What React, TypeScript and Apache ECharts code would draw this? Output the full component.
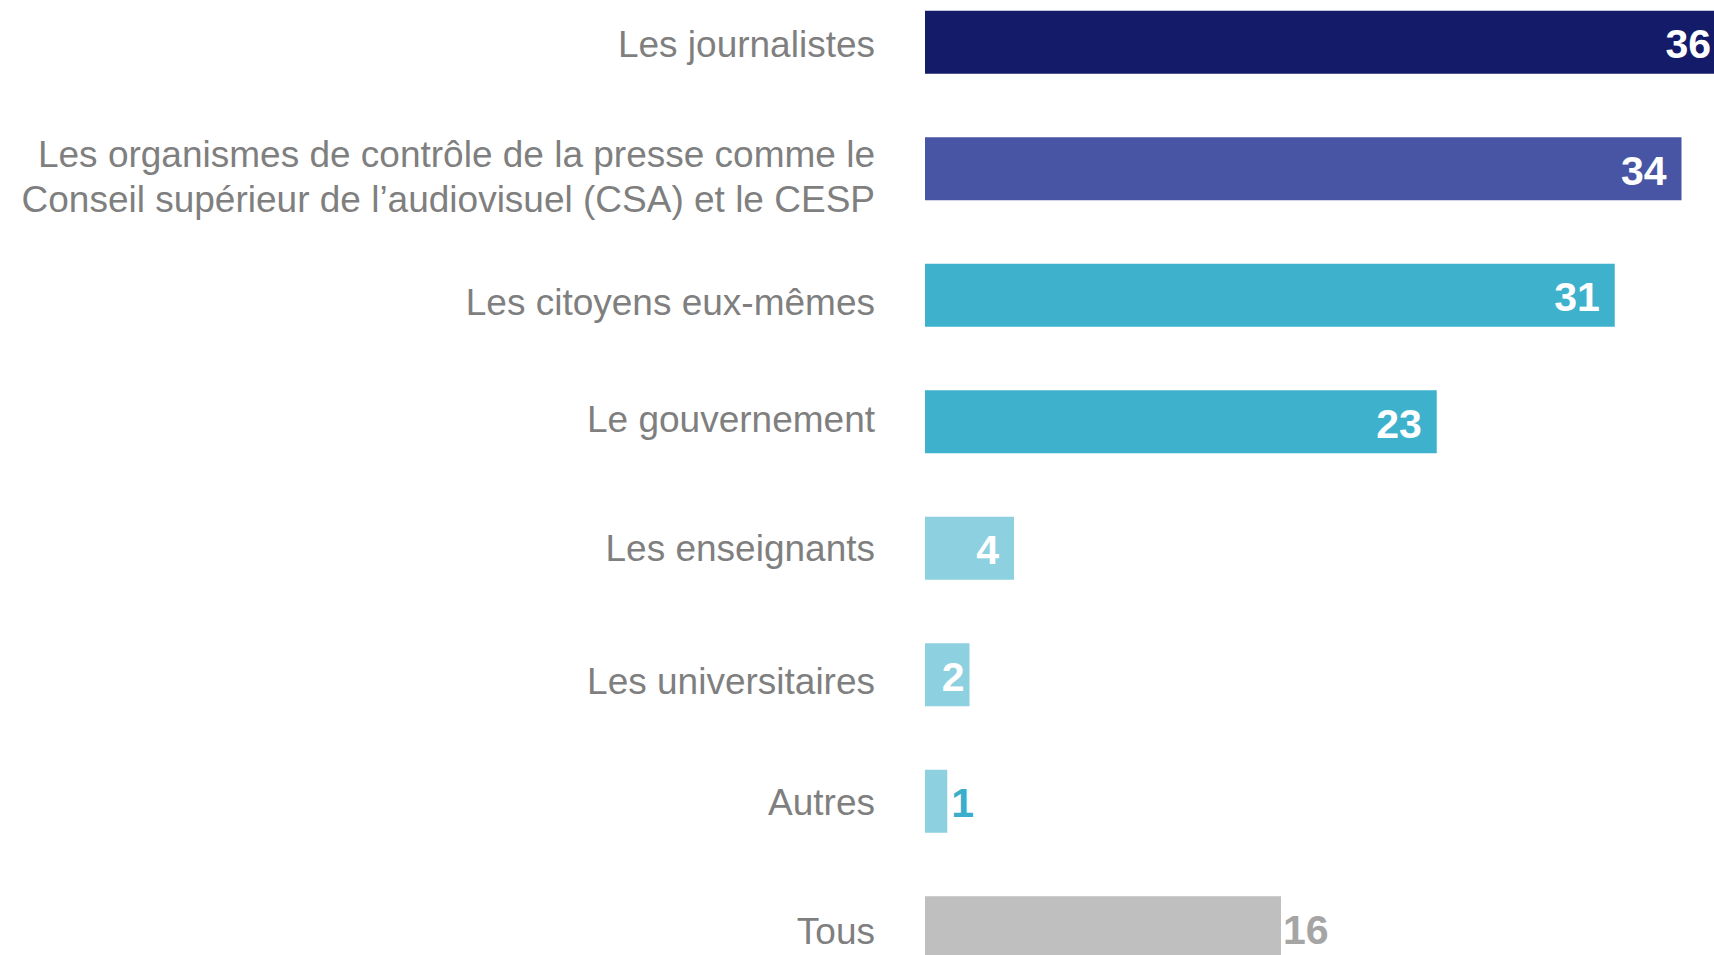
import React, { useEffect, useRef } from "react";
import * as echarts from "echarts";

const categories = [
  "Les journalistes",
  "Les organismes de contrôle de la presse comme le\nConseil supérieur de l’audiovisuel (CSA) et le CESP",
  "Les citoyens eux-mêmes",
  "Le gouvernement",
  "Les enseignants",
  "Les universitaires",
  "Autres",
  "Tous",
];
const values = [36, 34, 31, 23, 4, 2, 1, 16];
const barColors = ["#141C6A", "#4855A5", "#3EB1CD", "#3EB1CD", "#8DD0E0", "#8DD0E0", "#8DD0E0", "#BFBFBF"];

// small vertical nudges (px) of the category labels, as in the source slide
const labelShift = [2, 8, 7, -2, 0, 7, 1, 4];

const FONT = "'Liberation Sans', Arial, Helvetica, sans-serif";

export default function App() {
  const ref = useRef<HTMLDivElement | null>(null);

  useEffect(() => {
    if (!ref.current) return;
    const chart = echarts.init(ref.current, null, { renderer: "svg" });

    const labelFor = (i: number) => {
      const base = {
        show: true,
        fontFamily: FONT,
        fontSize: 41,
        fontWeight: "bold" as const,
        color: "#FFFFFF",
        position: "insideRight" as const,
        distance: 15,
        offset: [0, 2],
      };
      if (i === 5) return { ...base, distance: 5 };
      if (i === 6) return { ...base, position: "right" as const, distance: 4, color: "#3AAECB" };
      if (i === 7) return { ...base, position: "right" as const, distance: 2, color: "#A5A5A5" };
      return base;
    };

    const rich: Record<string, any> = {};
    labelShift.forEach((s, i) => {
      rich["s" + i] = {
        fontFamily: FONT,
        fontSize: 37,
        color: "#7F7F7F",
        lineHeight: 45,
        align: "right",
        padding: s >= 0 ? [2 * s, 0, 0, 0] : [0, 0, -2 * s, 0],
      };
    });

    chart.setOption({
      animation: false,
      backgroundColor: "#FFFFFF",
      grid: { left: 925, right: 0, top: 0, bottom: 0, containLabel: false },
      xAxis: {
        type: "value",
        min: 0,
        max: 40,
        show: false,
      },
      yAxis: {
        type: "category",
        inverse: true,
        data: categories,
        axisLine: { show: false },
        axisTick: { show: false },
        splitLine: { show: false },
        axisLabel: {
          margin: 50,
          fontFamily: FONT,
          fontSize: 37,
          color: "#7F7F7F",
          align: "right",
          lineHeight: 45,
          formatter: (v: string, idx: number) => "{s" + idx + "|" + v + "}",
          rich,
        },
      },
      series: [
        {
          type: "bar",
          barWidth: 63,
          data: values.map((v, i) => ({
            value: v,
            itemStyle: { color: barColors[i] },
            label: labelFor(i),
          })),
        },
      ],
    });

    return () => {
      chart.dispose();
    };
  }, []);

  return (
    <div
      style={{
        position: "fixed",
        left: 0,
        top: 0,
        width: 1714,
        height: 955,
        overflow: "hidden",
        background: "#FFFFFF",
      }}
    >
      <div
        ref={ref}
        style={{ position: "absolute", left: 0, top: -21, width: 1815, height: 1012 }}
      />
    </div>
  );
}
